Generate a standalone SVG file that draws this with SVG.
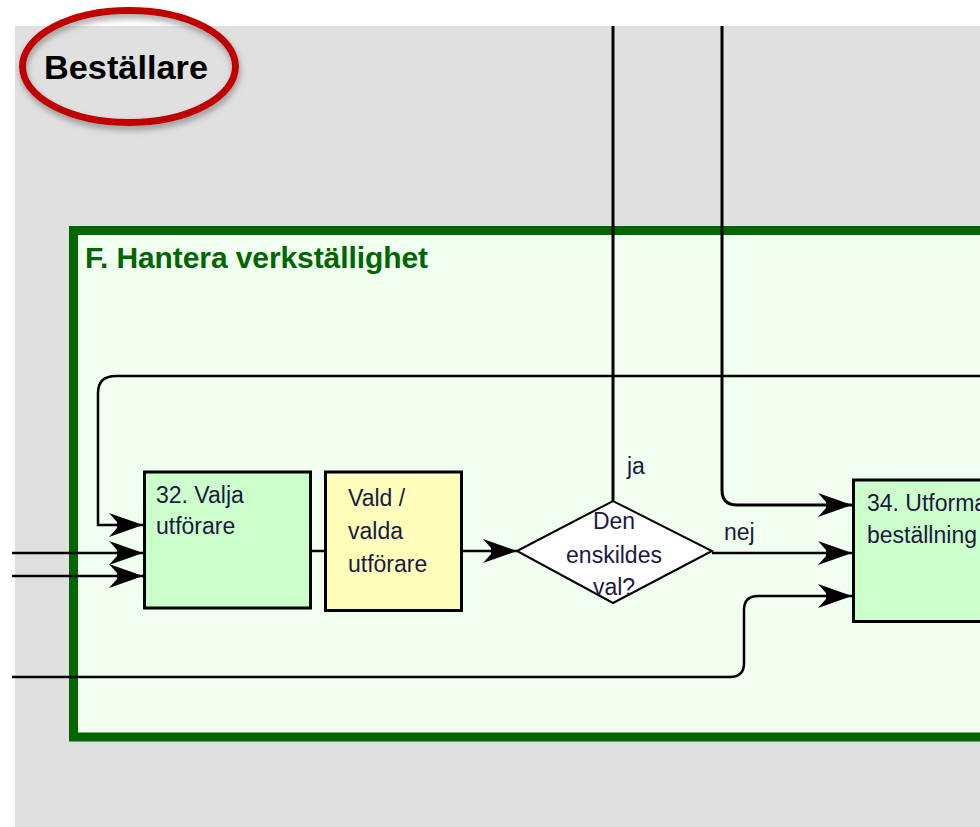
<svg xmlns="http://www.w3.org/2000/svg" width="980" height="827" viewBox="0 0 980 827">
<style>
text{font-family:"Liberation Sans",Arial,sans-serif;}
.lbl{font-size:23px;fill:#1a1a40;}
.box{stroke:#000;stroke-width:3;}
.ln{fill:none;stroke:#000;stroke-width:2.5;}
.lnv{fill:none;stroke:#000;stroke-width:3;}
</style>
<defs>
<marker id="arr" markerUnits="userSpaceOnUse" viewBox="-36 -14 38 28" refX="0" refY="0" markerWidth="38" markerHeight="28" orient="auto">
<path d="M0,0 L-34,-12 L-26,-3 L-26,3 L-34,12 Z" fill="#000"/>
</marker>
<filter id="sh" x="-20%" y="-20%" width="140%" height="150%">
<feDropShadow dx="1" dy="4" stdDeviation="3" flood-color="#777" flood-opacity="0.7"/>
</filter>
</defs>
<rect width="980" height="827" fill="#fff"/>
<rect x="15" y="26" width="965" height="801" fill="#e0e0e0"/>
<g id="lane-title">
<ellipse cx="129" cy="66.5" rx="106.5" ry="56" fill="none" stroke="#c00000" stroke-width="7" filter="url(#sh)"/>
<text x="44" y="79" font-size="33" font-weight="bold" fill="#000" textLength="164" lengthAdjust="spacingAndGlyphs">Beställare</text>
</g>
<g id="group-F">
<rect x="73.5" y="230.5" width="960" height="506.5" fill="#f0fff0" stroke="#006600" stroke-width="9"/>
<text x="85" y="268" font-size="30" font-weight="bold" fill="#006600" textLength="343" lengthAdjust="spacing">F. Hantera verkställighet</text>
</g>
<g id="connectors">
<path class="lnv" d="M613,26 V501"/>
<path class="lnv" d="M722,26 V490 Q722,505 737,505 H852" marker-end="url(#arr)"/>
<path class="ln" d="M980,376 H116 Q98,376 98,393 V525 H143" marker-end="url(#arr)"/>
<path class="ln" d="M12,553 H143" marker-end="url(#arr)"/>
<path class="ln" d="M12,576 H143" marker-end="url(#arr)"/>
<path class="ln" d="M311,551 H325"/>
<path class="ln" d="M462,551 H517" marker-end="url(#arr)"/>
<path class="ln" d="M712,553 H852" marker-end="url(#arr)"/>
<path class="ln" d="M12,677 H730 Q744,677 744,663 V610 Q744,596 758,596 H852" marker-end="url(#arr)"/>
<text class="lbl" x="627" y="474">ja</text>
<text class="lbl" x="724" y="540">nej</text>
</g>
<g id="node-32">
<rect class="box" x="144.5" y="472" width="166" height="136" fill="#ccffcc"/>
<text class="lbl" x="156" y="503">32. Valja</text>
<text class="lbl" x="156" y="534">utförare</text>
</g>
<g id="node-vald">
<rect class="box" x="325.5" y="472" width="136" height="138.5" fill="#ffffbb"/>
<text class="lbl" x="348" y="506">Vald /</text>
<text class="lbl" x="348" y="539">valda</text>
<text class="lbl" x="348" y="572">utförare</text>
</g>
<g id="node-decision">
<polygon points="517,551 613,501 712,551 613,603" fill="#fff" stroke="#000" stroke-width="2"/>
<text class="lbl" x="614" y="529" text-anchor="middle">Den</text>
<text class="lbl" x="614" y="563" text-anchor="middle">enskildes</text>
<text class="lbl" x="614" y="595" text-anchor="middle">val?</text>
</g>
<g id="node-34">
<rect class="box" x="853.5" y="480" width="200" height="141.5" fill="#ccffcc"/>
<text class="lbl" x="867" y="511">34. Utforma</text>
<text class="lbl" x="867" y="543">beställning</text>
</g>
</svg>
